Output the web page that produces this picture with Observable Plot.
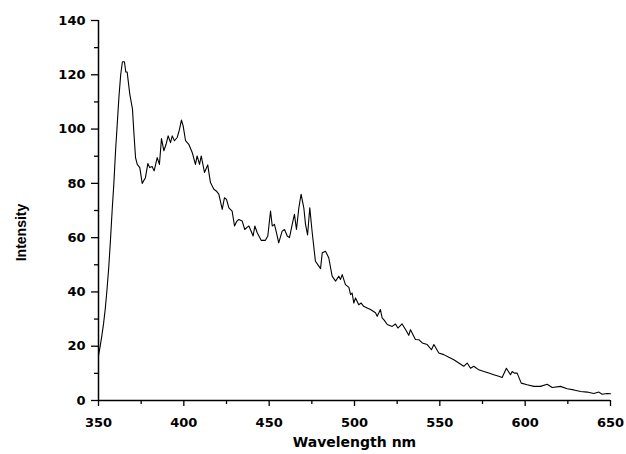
<!DOCTYPE html>
<html>
<head>
<meta charset="utf-8">
<script src="https://cdn.jsdelivr.net/npm/d3@7"></script>
<script src="https://cdn.jsdelivr.net/npm/@observablehq/plot@0.6"></script>
<style>
  html, body { margin: 0; padding: 0; background: #ffffff; }
  #chart { width: 626px; height: 454px; }
</style>
</head>
<body>
<div id="chart"></div>
<script>
const wavelength = [
  350, 351, 352, 353, 354, 355, 356, 357, 358, 359, 360, 361, 362, 363, 364, 365.2, 366, 366.8, 368.3, 369.9,
  370.8, 371.7, 372.7, 374.2, 375.6, 377.5, 378.9, 380, 381.4, 382.6, 384.4, 385.7, 386.9, 388.3, 389.6, 390.8,
  392.2, 393.2, 394.5, 396.1, 397.3, 398.6, 399.6, 401, 402.9, 404.9, 406.8, 407.8, 409.2, 410.2, 412.1, 414,
  415.6, 417.6, 419, 420.5, 422.5, 423.8, 425, 426.4, 428.3, 429.7, 431, 432.2, 434.2, 435.7, 437, 438.1, 439,
  440.6, 441.6, 443, 445.3, 447.8, 449.2, 450.8, 451.8, 453.1, 454.3, 455.6, 457.6, 459, 460.6, 461.9, 463.5,
  464.8, 466, 467.4, 468.7, 470.3, 471.3, 472.5, 473.8, 475.2, 477.1, 479.1, 480.1, 481.1, 483, 484.9, 486.9,
  488.9, 490.8, 491.8, 492.8, 494.7, 496.7, 497.7, 498.6, 499.6, 500.6, 502.5, 503.9, 505.4, 507.4, 509.4, 512.3,
  513.3, 515.2, 516.2, 517.5, 519.2, 522.1, 524, 525.4, 527.9, 530.5, 531.8, 532.8, 535.7, 537.7, 539.7, 542.6,
  545.1, 546.5, 549.4, 552.3, 555.3, 558.2, 561.1, 564, 566, 568, 569.9, 572.8, 575.8, 578.7, 581.6, 584.5, 586.5,
  589, 591.4, 592.4, 593.7, 595.3, 597.7, 601.2, 605.1, 609, 612.9, 615.8, 620.7, 624.6, 628.5, 632.5, 636.4,
  640.2, 643.2, 645.1, 648, 650
];
const intensity = [
  16.5, 20, 24, 28.5, 34, 41, 49, 59, 70, 80, 92, 102, 112, 120, 124.8, 124.8, 121, 121, 113, 107.4,
  98, 89.5, 87, 85.8, 80, 82.1, 87.3, 85.8, 86.2, 84.6, 89.5, 87, 96.5, 92, 94.4, 97.5,
  95, 97.5, 95.7, 96.9, 99.5, 103.3, 101.2, 95.7, 94.4, 91.4, 87, 90.1, 87, 90.1, 84, 86.8,
  80.3, 77.8, 77.2, 76, 70.4, 74.7, 74.1, 71, 69.8, 64.3, 66, 66.7, 66.1, 63, 63.8, 64.3, 63,
  60.6, 64.3, 61.8, 59, 59, 60.6, 69.8, 64.3, 64.9, 61.8, 58.1, 62.4, 63, 60.6, 60, 64.9,
  68.6, 63, 71, 76, 71, 64.9, 61, 71, 62, 51.3, 49.5, 48.6, 54.4, 55, 52.6, 45.8,
  44, 45.8, 44.6, 46.4, 42.7, 41.7, 39, 39.6, 35.9, 37.8, 35.3, 35.9, 34.7, 34.1, 33.5, 32.3,
  31, 33.5, 30.4, 29.5, 28, 27.3, 28.2, 26.7, 28.2, 25.5, 24, 26.1, 22.5, 22.4, 21.2, 20.6,
  18.7, 20.6, 17.5, 16.9, 15.9, 15, 13.8, 12.6, 13.8, 11.9, 12.6, 11.3, 10.7, 10.1, 9.5, 8.9, 8.5,
  11.9, 9.5, 10.7, 10.1, 10.1, 6.4, 5.8, 5.2, 5.2, 6, 4.8, 5.2, 4.3, 3.9, 3.3, 3.1,
  2.6, 3.1, 2.3, 2.6, 2.5
];
const xTicks = [350, 400, 450, 500, 550, 600, 650];
const xMinorTicks = [375, 425, 475, 525, 575, 625];
const yTicks = [0, 20, 40, 60, 80, 100, 120, 140];
const yMinorTicks = [10, 30, 50, 70, 90, 110, 130];
const xTitle = "Wavelength nm";
const yTitle = "Intensity";

const data = wavelength.map((w, i) => ({w, v: intensity[i]}));

const chart = Plot.plot({
  width: 626,
  height: 454,
  marginLeft: 98,
  marginRight: 16,
  marginTop: 20,
  marginBottom: 54,
  style: {fontFamily: "'DejaVu Sans', sans-serif", fontWeight: "bold", fontSize: "13px", color: "#000", background: "transparent"},
  x: {domain: [350, 650], label: null},
  y: {domain: [0, 140], label: null},
  marks: [
    Plot.axisX(xTicks, {tickSize: 6, tickPadding: 11, tickFormat: d => String(d), stroke: "#000", strokeWidth: 1.3, label: null}),
    Plot.axisX(xMinorTicks, {tickSize: 4, tickFormat: () => "", stroke: "#000", strokeWidth: 1.3, label: null}),
    Plot.axisY(yTicks, {tickSize: 7, tickPadding: 6, tickFormat: d => String(d), stroke: "#000", strokeWidth: 1.3, label: null}),
    Plot.axisY(yMinorTicks, {tickSize: 4, tickFormat: () => "", stroke: "#000", strokeWidth: 1.3, label: null}),
    Plot.ruleX([350], {stroke: "#000", strokeWidth: 1.5}),
    Plot.ruleY([0], {stroke: "#000", strokeWidth: 1.5}),
    Plot.line(data, {x: "w", y: "v", stroke: "#000", strokeWidth: 1.1, curve: "linear"}),
    Plot.text([xTitle], {frameAnchor: "bottom", textAnchor: "middle", dy: 46, fontSize: 14, fontWeight: "bold", fill: "#000"}),
    Plot.text([yTitle], {frameAnchor: "left", textAnchor: "middle", rotate: -90, dx: -77, dy: 22, fontSize: 14, fontWeight: "bold", fontFamily: "'Liberation Sans', Arial, sans-serif", fill: "#000"})
  ]
});
document.getElementById("chart").appendChild(chart);
</script>
</body>
</html>
